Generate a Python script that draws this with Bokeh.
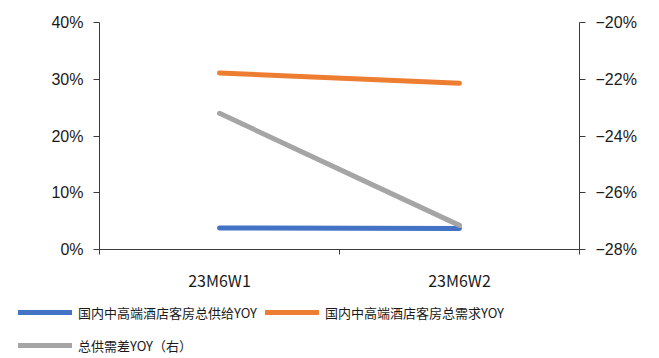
from bokeh.plotting import figure
from bokeh.models import (Range1d, LinearAxis, FixedTicker, CustomJSTickFormatter,
                          Legend, LegendItem, ColumnDataSource)
from bokeh.embed import file_html
from bokeh.resources import INLINE

# Weekly YoY data (percent)
categories = ["23M6W1", "23M6W2"]
supply_yoy = [3.8, 3.7]        # 国内中高端酒店客房总供给YOY (left axis)
demand_yoy = [31.1, 29.3]      # 国内中高端酒店客房总需求YOY (left axis)
gap_yoy = [-23.2, -27.15]      # 总供需差YOY (right axis)

left_ticks = [0, 10, 20, 30, 40]
right_ticks = [-28, -26, -24, -22, -20]

names = ["国内中高端酒店客房总供给YOY", "国内中高端酒店客房总需求YOY", "总供需差YOY（右）"]
colors = ["#4472C4", "#ED7D31", "#A5A5A5"]
series = ["supply", "demand", "gap"]

W, H_CHART, H_LEGEND = 659, 300, 58

# category centres on a numeric axis so that ticks can sit on category boundaries
xs = [i + 0.5 for i in range(len(categories))]
src = ColumnDataSource(dict(x=xs, supply=supply_yoy, demand=demand_yoy, gap=gap_yoy))

p = figure(width=W, height=H_CHART, output_backend="svg", toolbar_location=None,
           x_range=Range1d(0, len(categories)), y_range=Range1d(left_ticks[0], left_ticks[-1]),
           min_border_left=99, min_border_right=80, min_border_top=22, min_border_bottom=51)
p.extra_y_ranges = {"right": Range1d(right_ticks[0], right_ticks[-1])}
p.outline_line_color = None
p.grid.visible = False

axis_color = "#3a3a3a"
fmt = CustomJSTickFormatter(code="""
    const v = Math.round(tick);
    return (v < 0 ? '\u2212' : '') + Math.abs(v) + '%';
""")

# x axis: labels at category centres, ticks on category boundaries
xa = p.xaxis[0]
xa.ticker = FixedTicker(ticks=xs, minor_ticks=list(range(len(categories) + 1)))
xa.major_label_overrides = {x: c for x, c in zip(xs, categories)}
xa.major_tick_line_color = None
xa.major_tick_out = 0
xa.major_tick_in = 0
xa.minor_tick_line_color = axis_color
xa.minor_tick_out = 5
xa.minor_tick_in = 0
xa.axis_line_color = axis_color
xa.major_label_standoff = 13
xa.major_label_text_font = "Noto Sans CJK SC"
xa.major_label_text_font_size = "16px"
xa.major_label_text_color = "#1a1a1a"

# left y axis
ya = p.yaxis[0]
ya.ticker = FixedTicker(ticks=left_ticks)
ya.formatter = fmt
ya.minor_tick_line_color = None
ya.major_tick_out = 6
ya.major_tick_in = 0
ya.axis_line_color = axis_color
ya.major_tick_line_color = axis_color
ya.major_label_standoff = 10
ya.major_label_text_font = "Liberation Sans"
ya.major_label_text_font_size = "16px"
ya.major_label_text_color = "#1a1a1a"

# right y axis
ra = LinearAxis(y_range_name="right", ticker=FixedTicker(ticks=right_ticks), formatter=fmt)
ra.minor_tick_line_color = None
ra.major_tick_out = 6
ra.major_tick_in = 0
ra.axis_line_color = axis_color
ra.major_tick_line_color = axis_color
ra.major_label_standoff = 10
ra.major_label_text_font = "Liberation Sans"
ra.major_label_text_font_size = "16px"
ra.major_label_text_color = "#1a1a1a"
p.add_layout(ra, "right")

line_style = dict(line_width=5, line_cap="round")
p.line("x", "supply", source=src, line_color=colors[0], **line_style)
p.line("x", "demand", source=src, line_color=colors[1], **line_style)
p.line("x", "gap", source=src, line_color=colors[2], y_range_name="right", **line_style)

# legend strip under the chart; its hidden renderers only carry the legend styles
lg = figure(width=W, height=H_LEGEND, output_backend="svg", toolbar_location=None,
            x_axis_type=None, y_axis_type=None, min_border=0)
lg.outline_line_color = None
lg.grid.visible = False
keys = [lg.line("x", s, source=src, line_color=c, visible=False, **line_style)
        for s, c in zip(series, colors)]

legend_style = dict(orientation="horizontal", glyph_width=54, glyph_height=24, label_height=24,
                    label_standoff=6, spacing=8, padding=0, margin=0,
                    label_text_font="Noto Sans CJK SC", label_text_font_size="13px",
                    label_text_color="#1a1a1a", border_line_color=None,
                    background_fill_alpha=0, inactive_fill_alpha=0)
row1 = Legend(items=[LegendItem(label=n, renderers=[r]) for n, r in zip(names[:2], keys[:2])],
              location=(18, H_LEGEND - 24), **legend_style)
row2 = Legend(items=[LegendItem(label=names[2], renderers=[keys[2]])],
              location=(18, H_LEGEND - 57), **legend_style)
lg.add_layout(row1)
lg.add_layout(row2)

open("out.html", "w").write(file_html([p, lg], INLINE))
